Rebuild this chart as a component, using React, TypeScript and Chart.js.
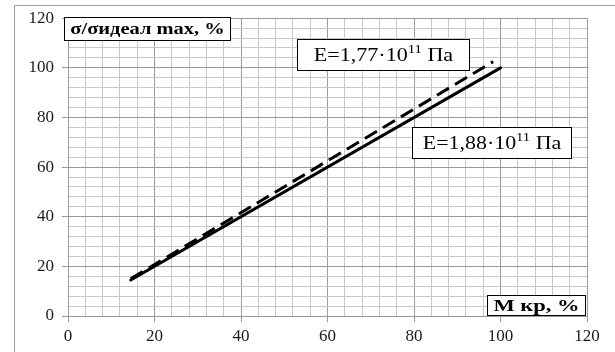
import React, { useEffect, useRef } from "react";
import { Chart, registerables } from "chart.js";

Chart.register(...registerables);

// ---- data ----
const axisMin = 0;
const axisMax = 120;
const majorStep = 20;
const minorStep = 4;

const solidX = [14.5, 100];
const solidY = [14.5, 100];
const dashedX = [14.5, 98.3];
const dashedY = [15, 102.5];

const solidLabel = ["E=1,88·10", "11", " Па"];
const dashedLabel = ["E=1,77·10", "11", " Па"];
const yTitle = ["σ/σидеал max, %"];
const xTitle = ["M кр, %"];

// ---- styling / layout ----
const MAJOR = "#9a9a9a";
const MINOR = "#c8c8c8";
const FONT = "'Liberation Serif', 'Times New Roman', serif";

type Box = {
  parts: string[];
  x0: number; x1: number; y0: number; y1: number;
  size: number; bold: boolean; fill: number;
};

const boxes: Box[] = [
  { parts: yTitle, x0: -0.9, x1: 37.5, y0: 120.4, y1: 111.2, size: 16, bold: true, fill: 0.93 },
  { parts: dashedLabel, x0: 53, x1: 92.7, y0: 111.6, y1: 99.2, size: 18, bold: false, fill: 0.81 },
  { parts: solidLabel, x0: 79.5, x1: 116.4, y0: 76, y1: 63.6, size: 18, bold: false, fill: 0.87 },
  { parts: xTitle, x0: 96.9, x1: 119.5, y0: 8.6, y1: 0.4, size: 17, bold: true, fill: 0.88 },
];

const framePlugin = {
  id: "frame",
  beforeDraw(chart: any) {
    const { ctx, width, height } = chart;
    ctx.save();
    ctx.fillStyle = "#ffffff";
    ctx.fillRect(0, 0, width, height);
    ctx.strokeStyle = "#a0a0a0";
    ctx.lineWidth = 1;
    ctx.beginPath();
    ctx.moveTo(14.5, height);
    ctx.lineTo(14.5, 5.5);
    ctx.lineTo(width, 5.5);
    ctx.stroke();
    ctx.restore();
  },
};

const boxPlugin = {
  id: "boxes",
  afterDatasetsDraw(chart: any) {
    const { ctx } = chart;
    const xs = chart.scales.x;
    const ys = chart.scales.y;
    ctx.save();
    for (const b of boxes) {
      const l = Math.round(xs.getPixelForValue(b.x0)) + 0.5;
      const r = Math.round(xs.getPixelForValue(b.x1)) + 0.5;
      const t = Math.round(ys.getPixelForValue(b.y0)) + 0.5;
      const btm = Math.round(ys.getPixelForValue(b.y1)) + 0.5;
      ctx.fillStyle = "#ffffff";
      ctx.fillRect(l, t, r - l, btm - t);
      ctx.strokeStyle = "#000000";
      ctx.lineWidth = 1;
      ctx.strokeRect(l, t, r - l, btm - t);
      const mainFont = `${b.bold ? "bold " : ""}${b.size}px ${FONT}`;
      const supFont = `${b.bold ? "bold " : ""}${Math.round(b.size * 0.66)}px ${FONT}`;
      let total = 0;
      const widths: number[] = [];
      b.parts.forEach((p, i) => {
        ctx.font = i === 1 ? supFont : mainFont;
        const w = ctx.measureText(p).width;
        widths.push(w);
        total += w;
      });
      const target = (r - l) * b.fill;
      const sx = target / total;
      const cx = (l + r) / 2;
      const cy = (t + btm) / 2;
      ctx.save();
      ctx.translate(cx - target / 2, cy);
      ctx.scale(sx, 1);
      ctx.fillStyle = "#000000";
      ctx.textBaseline = "middle";
      ctx.textAlign = "left";
      let x = 0;
      b.parts.forEach((p, i) => {
        ctx.font = i === 1 ? supFont : mainFont;
        ctx.fillText(p, x, i === 1 ? -b.size * 0.3 : 1);
        x += widths[i];
      });
      ctx.restore();
    }
    ctx.restore();
  },
};

function gridScale(isY: boolean) {
  return {
    type: "linear" as const,
    min: axisMin,
    max: axisMax,
    afterFit(scale: any) {
      if (isY) scale.width = 68;
      else scale.height = 36;
    },
    border: { display: true, color: MAJOR, width: 1 },
    grid: {
      color: (c: any) => (c.tick && c.tick.value % majorStep === 0 ? MAJOR : MINOR),
      tickColor: (c: any) =>
        c.tick && c.tick.value % majorStep === 0 ? MAJOR : "rgba(0,0,0,0)",
      tickLength: 6,
      lineWidth: 1,
    },
    ticks: {
      stepSize: minorStep,
      autoSkip: false,
      maxRotation: 0,
      padding: isY ? 8 : 4,
      color: "#1a1a1a",
      font: { family: FONT, size: 17 },
      callback: (v: any) => (Number(v) % majorStep === 0 ? String(v) : ""),
    },
  };
}

export default function App() {
  const ref = useRef<HTMLCanvasElement | null>(null);
  useEffect(() => {
    document.body.style.margin = "0";
    if (!ref.current) return;
    const chart = new Chart(ref.current, {
      type: "line",
      data: {
        datasets: [
          {
            label: "E=1,88",
            data: solidX.map((x, i) => ({ x, y: solidY[i] })),
            borderColor: "#000000",
            borderWidth: 3,
            pointRadius: 0,
            fill: false,
            borderCapStyle: "round",
          },
          {
            label: "E=1,77",
            data: dashedX.map((x, i) => ({ x, y: dashedY[i] })),
            borderColor: "#000000",
            borderWidth: 3,
            borderDash: [14, 7],
            pointRadius: 0,
            fill: false,
          },
        ],
      },
      options: {
        animation: false,
        responsive: false,
        devicePixelRatio: 1,
        layout: { padding: { top: 15, right: 28, left: 0, bottom: 0 } },
        plugins: { legend: { display: false }, tooltip: { enabled: false } },
        scales: { x: gridScale(false), y: gridScale(true) } as any,
      },
      plugins: [framePlugin, boxPlugin],
    });
    return () => chart.destroy();
  }, []);
  return (
    <div style={{ width: 615, height: 352 }}>
      <canvas ref={ref} width={615} height={352} style={{ width: 615, height: 352, display: "block" }} />
    </div>
  );
}
